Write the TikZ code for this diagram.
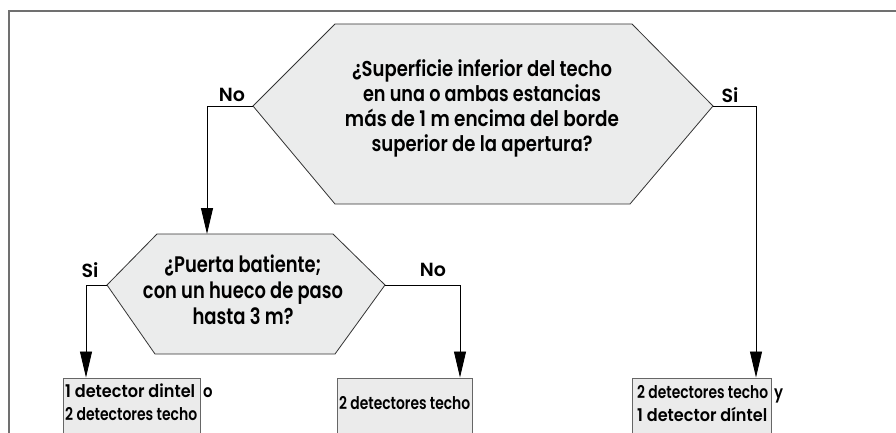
\documentclass[tikz,border=0pt]{standalone}
\usepackage{fontspec}
\usepackage{graphicx}
\setmainfont{Poppins}[UprightFont=* SemiBold]
\newcommand{\fitw}[2]{\resizebox{#1}{\height}{#2}}
\usetikzlibrary{arrows.meta}
\definecolor{hexfill}{HTML}{EBECEC}
\definecolor{boxfill}{HTML}{EBEBEB}
\definecolor{boxline}{HTML}{666666}
\definecolor{framec}{HTML}{707070}
\begin{document}
\begin{tikzpicture}[x=1pt,y=-1pt,
  hexa/.style={draw=black!80, fill=hexfill, line width=0.8pt},
  boxn/.style={draw=boxline, fill=boxfill, line width=1pt, anchor=north west, inner sep=0pt},
  frameline/.style={draw=framec, line width=1.3pt},
  conn/.style={draw=black, line width=0.9pt, -{Triangle[length=26pt,width=12pt]}},
  qtext/.style={inner sep=0pt, anchor=base, font=\fontsize{21.5}{24.7}\selectfont},
  qtextb/.style={inner sep=0pt, anchor=base, font=\fontsize{22.5}{26}\selectfont},
  btext/.style={inner sep=0pt, anchor=base west, font=\fontsize{17.5}{23}\selectfont},
  lab/.style={inner sep=0pt, font=\fontsize{19}{19}\selectfont}]
\useasboundingbox (0,0) rectangle (896,433);
\clip (0,0) rectangle (896,433);
% frame
\draw[frameline] (9,440) -- (9,11) -- (896,11);
% boxes
\node[boxn, minimum width=137pt, minimum height=80pt] (b1) at (63,377.5) {};
\node[boxn, minimum width=135pt, minimum height=80pt] (b2) at (337,377.5) {};
\node[boxn, minimum width=139pt, minimum height=80pt] (b3) at (632,377.5) {};
\node[btext] (t1) at (65,397) {\begin{tabular}[t]{@{}l@{}}\fitw{130pt}{1 detector dintel}\hspace{8pt}\scalebox{0.85}[1]{o}\\\fitw{132pt}{2 detectores techo}\end{tabular}};
\node[btext] (t2) at (339,409) {\fitw{131pt}{2 detectores techo}};
\node[btext] (t3) at (637,398) {\begin{tabular}[t]{@{}l@{}}\fitw{131pt}{2 detectores techo}\hspace{6pt}\scalebox{0.85}[1]{y}\\\fitw{130pt}{1 detector díntel}\end{tabular}};
% hexagon 1
\coordinate (h1w) at (253,106);
\coordinate (h1nw) at (335,24);
\coordinate (h1ne) at (632,24);
\coordinate (h1e) at (713,106);
\coordinate (h1se) at (630,204);
\coordinate (h1sw) at (335,204);
\path[hexa] (h1w) -- (h1nw) -- (h1ne) -- (h1e) -- (h1se) -- (h1sw) -- cycle;
\node[qtext] (q1) at (482,77) {\begin{tabular}[t]{@{}c@{}}\fitw{260pt}{¿Superficie inferior del techo}\\\fitw{238pt}{en una o ambas estancias}\\\fitw{274pt}{más de 1 m encima del borde}\\\fitw{221pt}{superior de la apertura?}\end{tabular}};
% hexagon 2
\coordinate (h2w) at (107,285);
\coordinate (h2nw) at (157,234);
\coordinate (h2ne) at (333,234);
\coordinate (h2e) at (385,285);
\coordinate (h2se) at (335,354);
\coordinate (h2sw) at (155,354);
\path[hexa] (h2w) -- (h2nw) -- (h2ne) -- (h2e) -- (h2se) -- (h2sw) -- cycle;
\node[qtextb] (q2) at (243,272) {\begin{tabular}[t]{@{}c@{}}\fitw{157pt}{¿Puerta batiente;}\\\fitw{200pt}{con un hueco de paso}\\\fitw{101pt}{hasta 3 m?}\end{tabular}};
% connector end points
\coordinate (in2) at (207,234);
\coordinate (in1) at (86,377.5);
\coordinate (in2b) at (460,377.5);
\coordinate (in3) at (756,377.5);
\draw[conn] (h1w) -| (in2);
\draw[conn] (h1e) -| (in3);
\draw[conn] (h2w) -| (in1);
\draw[conn] (h2e) -| (in2b);
% labels
\node[lab] (l1) at (232,95) {No};
\node[lab] (l2) at (730,95) {Si};
\node[lab] (l3) at (90,270) {Si};
\node[lab] (l4) at (433,270) {No};
\end{tikzpicture}
\end{document}
